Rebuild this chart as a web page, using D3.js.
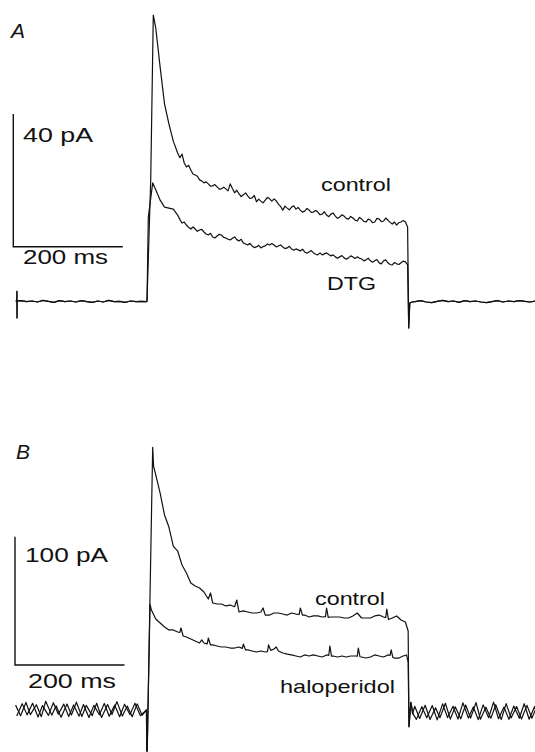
<!DOCTYPE html>
<html><head><meta charset="utf-8">
<script src="https://cdn.jsdelivr.net/npm/d3@7"></script>
<style>html,body{margin:0;padding:0;background:#fff;} svg{display:block;}</style>
</head><body>
<svg id="chart" width="535" height="752"></svg>
<script>
// ---------- DATA (time in ms, pulse onset at 0; current in pA) ----------
// Panel A
const baseA_pre = [[-240,0],[-237.8,0],[-237.6,2.9],[-237.4,-5.1],[-237.2,0],[-230,0.1],[-220,-0.2],[-210,0.0],[-200,-0.3],[-190,0.2],[-180,-0.1],[-170,-0.4],[-160,0.1],[-150,-0.2],[-140,0.0],[-130,-0.3],[-120,0.1],[-110,-0.2],[-100,-0.4],[-90,0.0],[-80,-0.3],[-70,0.2],[-60,-0.2],[-50,-0.1],[-40,-0.4],[-30,0.0],[-20,-0.2],[-10,-0.1],[-1,-0.2]];
const controlA = [[0,0],[6.8,36.5],[11.5,86.2],[16,82.3],[24,70.5],[32,59.4],[40,53.4],[48,48.2],[56,44.6],[60,43.2],[64,44.3],[68,41.6],[72,40.4],[76,40.9],[80,39.5],[84,38.3],[88,38.0],[92,37.6],[96,36.5],[100,36.2],[104,35.6],[108,35.9],[112,35.3],[116,34.6],[120,34.7],[124,35.1],[128,34.4],[132,33.7],[136,33.8],[140,34.3],[144,33.8],[148,33.2],[152,35.3],[156,33.9],[160,32.6],[164,33.4],[168,32.3],[172,31.5],[176,32.0],[180,32.6],[184,31.7],[188,30.9],[192,31.1],[196,31.8],[200,29.9],[204,30.7],[208,30.1],[212,29.6],[216,30.4],[220,31.2],[224,30.8],[228,30.1],[232,30.8],[236,30.2],[240,29.2],[244,28.5],[248,27.4],[252,28.6],[256,28.0],[260,27.5],[264,28.3],[268,28.7],[272,27.7],[276,28.2],[280,27.4],[284,26.8],[288,27.1],[292,27.9],[296,27.4],[300,26.7],[304,26.8],[308,27.3],[312,26.8],[316,26.0],[320,26.2],[324,26.9],[328,25.9],[332,25.4],[336,26.2],[340,26.5],[344,25.6],[348,24.9],[352,25.3],[356,26.0],[360,25.6],[364,24.9],[368,24.7],[372,25.5],[376,25.0],[380,24.4],[384,24.1],[388,25.2],[392,24.7],[396,24.0],[400,23.8],[404,24.7],[408,24.4],[412,23.6],[416,23.8],[420,24.9],[424,24.7],[428,23.9],[432,24.1],[436,25.0],[440,24.4],[444,23.7],[448,23.2],[452,23.8],[456,22.9],[460,23.6],[464,23.8],[468,24.3],[472,23.8],[476,22.3]];
const dtgA = [[0,0],[2.4,25.3],[10.4,35.6],[16,33.5],[24,30.4],[32,28.3],[40,28.0],[48,27.7],[56,25.9],[60,24.6],[64,23.5],[68,23.8],[72,22.9],[76,22.2],[80,21.7],[84,22.3],[88,21.7],[92,21.0],[96,21.4],[100,21.6],[104,20.8],[108,20.2],[112,19.9],[116,20.4],[120,19.3],[124,19.0],[128,19.6],[132,20.1],[136,19.9],[140,19.2],[144,19.0],[148,18.6],[152,18.4],[156,18.9],[160,19.3],[164,18.5],[168,18.1],[172,18.6],[176,17.5],[180,17.2],[184,16.9],[188,17.4],[192,16.6],[196,16.1],[200,16.3],[204,16.8],[208,16.0],[212,16.4],[216,16.6],[220,17.2],[224,16.9],[228,17.3],[232,16.9],[236,16.3],[240,16.6],[244,16.9],[248,16.3],[252,15.8],[256,16.0],[260,16.5],[264,15.7],[268,15.3],[272,15.7],[276,15.4],[280,15.1],[284,15.6],[288,14.8],[292,14.4],[296,14.8],[300,15.2],[304,14.5],[308,14.1],[312,13.9],[316,14.5],[320,13.9],[324,14.2],[328,14.5],[332,14.0],[336,13.6],[340,13.9],[344,13.3],[348,12.9],[352,13.3],[356,13.7],[360,13.0],[364,12.6],[368,13.0],[372,13.6],[376,13.3],[380,12.8],[384,13.3],[388,12.9],[392,12.7],[396,12.1],[400,12.4],[404,12.9],[408,12.1],[412,11.7],[416,12.1],[420,12.5],[424,11.5],[428,11.2],[432,12.1],[436,12.4],[440,11.5],[444,11.0],[448,10.9],[452,11.6],[456,11.2],[460,11.0],[464,11.5],[468,12.0],[472,11.8],[476,10.9]];
const baseA_post = [[478,-8.1],[480,-0.6],[484,-0.3],[490,-0.2],[500,0.1],[510,-0.3],[520,-0.5],[530,-0.1],[540,0.2],[550,-0.2],[560,0.0],[570,-0.4],[580,0.1],[590,-0.2],[600,0.0],[610,-0.3],[620,-0.5],[630,-0.2],[640,0.1],[650,-0.3],[660,0.0],[670,-0.2],[680,0.1],[690,-0.1],[700,-0.3],[710,0.0]];

// Panel B
const tControlPreB = [-240,-231,-221,-213,-202,-193,-185,-174,-166,-157,-146,-138,-129,-119,-111,-100,-92,-83,-72,-64,-55,-45,-36,-27,-18,-9];
const controlPreB = [3.8,-4.5,5.9,-3.6,4.1,-5.2,6.8,-4.0,3.3,-5.6,4.7,-3.9,6.1,-5.0,3.6,-4.4,5.3,-5.8,4.2,-3.5,6.5,-4.7,3.1,-5.3,4.8,-4.1];
const tHaloPreB = [-238,-228,-219,-209,-199,-191,-180,-171,-162,-152,-143,-134,-124,-116,-106,-97,-87,-78,-69,-59,-50,-41,-31,-22,-12];
const haloPreB = [-4.6,4.9,-3.8,5.2,-5.5,3.4,-4.2,5.7,-3.3,4.6,-5.1,3.9,-4.8,4.3,-5.9,3.6,-3.7,5.1,-4.9,3.8,-5.2,4.5,-3.6,5.3,-4.4];
const controlB = [[-1,0],[-0.4,-32],[0.4,-32],[10.4,204.8],[12,190],[16,183.2],[24,169.1],[32,152.0],[40,142.6],[48,127.8],[56,123.9],[64,113.0],[72,106.8],[80,99.0],[88,96.6],[96,95.1],[104,92.0],[112,86.5],[116,91.2],[120,83.4],[128,82.6],[136,82.6],[144,81.1],[152,81.8],[160,80.5],[164,85.7],[168,76.4],[176,77.2],[184,76.4],[192,75.6],[200,75.6],[208,76.4],[212,79.5],[216,74.0],[224,74.0],[232,75.6],[240,75.6],[248,74.8],[256,74.0],[264,75.6],[272,74.8],[278,74.5],[280,79.5],[284,74.0],[288,74.0],[296,72.5],[304,73.3],[312,73.3],[320,72.5],[326,72.8],[328,79.5],[331,72.2],[336,72.5],[344,72.5],[352,72.5],[360,71.7],[368,71.7],[376,73.3],[384,75.6],[392,71.7],[400,71.7],[408,71.7],[416,73.3],[424,74.0],[432,72.5],[436,72.0],[438,78.7],[441,70.5],[448,71.7],[456,73.3],[464,70.1],[472,68.6],[477,61.6],[478.5,-13],[482,6],[485,-3]];
const haloB = [[-1,0],[-0.4,-32],[0.4,-32],[5.5,82.6],[8,77.9],[16,70.9],[24,67.8],[32,64.7],[40,62.4],[48,62.4],[56,60.8],[60,60.5],[62,63.9],[66,57.7],[72,56.9],[80,55.3],[88,53.8],[96,52.2],[100,54.6],[104,52.2],[110,51.5],[112,56.1],[116,50.7],[120,50.7],[128,49.9],[136,49.1],[144,49.1],[152,48.3],[160,48.3],[168,49.1],[174,48.0],[176,51.4],[180,46.8],[184,46.8],[192,46.0],[200,45.2],[208,46.0],[216,45.2],[220,45.5],[222,50.7],[226,46.5],[232,47.5],[236,49.1],[240,46.0],[248,44.4],[256,43.6],[264,42.9],[272,42.1],[280,41.3],[288,42.9],[296,42.1],[304,42.9],[312,42.1],[320,41.3],[328,42.9],[332,42.5],[334,49.9],[337,42.0],[340,42.1],[348,41.3],[356,42.1],[364,41.3],[372,42.1],[380,42.1],[384,42.0],[386,48.3],[389,41.5],[392,41.3],[400,40.5],[408,41.3],[416,42.9],[424,42.1],[432,41.3],[440,42.9],[444,42.5],[446,46.8],[449,41.0],[452,40.5],[460,40.5],[468,42.1],[474,42.9],[477,37.4],[478.5,-13],[482,6],[486,-3]];
const tControlPostB = [489,498,508,517,527,535,545,554,563,573,582,591,601,609,619,628,637,647,656,665,675,684,694,703,712];
const controlPostB = [2.9,-6.6,3.7,-7.4,1.8,-6.0,5.3,-7.1,2.5,-6.9,3.9,-6.3,5.8,-7.2,2.2,-6.5,4.1,-7.5,5.0,-6.2,2.7,-7.0,3.6,-6.4,2.8];
const tHaloPostB = [492,502,511,521,530,540,549,559,568,577,587,596,605,614,624,633,642,652,661,670,680,689,698,708,715];
const haloPostB = [-7.3,2.6,-6.1,3.5,-7.7,4.8,-5.9,2.9,-7.1,5.6,-6.3,2.4,-7.5,4.0,-6.0,6.1,-6.8,2.3,-7.3,3.1,-6.4,4.9,-7.2,2.7,-6.5];

// scale bars and labels
const scaleBarA = {ms: 200, pA: 40, msLabel: "200 ms", pALabel: "40 pA"};
const scaleBarB = {ms: 200, pA: 100, msLabel: "200 ms", pALabel: "100 pA"};
const panelLabels = ["A", "B"];
const traceLabelsA = ["control", "DTG"];
const traceLabelsB = ["control", "haloperidol"];

// ---------- DRAWING ----------
const svg = d3.select("#chart");
svg.append("rect").attr("width", 535).attr("height", 752).attr("fill", "#fff");

const x = d3.scaleLinear().domain([0, 200]).range([147, 147 + 109.5]);
const yA = d3.scaleLinear().domain([0, 40]).range([301, 301 - 132.7]);
const yB = d3.scaleLinear().domain([0, 100]).range([710, 710 - 128.3]);

const zip = (ts, vs) => ts.map((t, i) => [t, vs[i]]);

function drawTrace(data, y) {
  svg.append("path").datum(data)
    .attr("fill", "none").attr("stroke", "#111").attr("stroke-width", 1.2)
    .attr("stroke-linejoin", "round")
    .attr("d", d3.line().x(d => x(d[0])).y(d => y(d[1])));
}

// Panel A traces
drawTrace(baseA_pre.concat(controlA, baseA_post), yA);
drawTrace(baseA_pre.concat(dtgA, baseA_post), yA);

// Panel B traces
drawTrace(zip(tControlPreB, controlPreB).concat(controlB, zip(tControlPostB, controlPostB)), yB);
drawTrace(zip(tHaloPreB, haloPreB).concat(haloB, zip(tHaloPostB, haloPostB)), yB);

function scaleBar(y, t0, pA0, bar) {
  const x0 = x(t0), x1 = x(t0 + bar.ms), yb = y(pA0), yt = y(pA0 + bar.pA);
  svg.append("path")
    .attr("d", `M${x0},${yt}V${yb}H${x1}`)
    .attr("fill", "none").attr("stroke", "#111").attr("stroke-width", 1.4);
}
scaleBar(yA, -244.2, 16.37, scaleBarA);
scaleBar(yB, -241.1, 35.07, scaleBarB);

const font = "'Liberation Sans', Arial, Helvetica, sans-serif";
function label(txt, px, py, size, len, italic) {
  const t = svg.append("text").attr("x", px).attr("y", py)
    .attr("font-family", font).attr("font-size", size).attr("fill", "#111")
    .text(txt);
  if (len) t.attr("textLength", len).attr("lengthAdjust", "spacingAndGlyphs");
  if (italic) t.attr("font-style", "italic");
}
label(panelLabels[0], 11, 38, 21, null, true);
label(panelLabels[1], 16, 459, 21, null, true);

label(scaleBarA.pALabel, 23, 142, 20, 70);
label(scaleBarA.msLabel, 23, 264, 20, 85);
label(scaleBarB.pALabel, 25, 562, 20, 83);
label(scaleBarB.msLabel, 28, 688, 20, 88);

label(traceLabelsA[0], 321, 191, 19, 70);
label(traceLabelsA[1], 327, 290, 19, 49);
label(traceLabelsB[0], 315, 605, 19, 70);
label(traceLabelsB[1], 280, 693, 19, 115);
</script></body></html>
